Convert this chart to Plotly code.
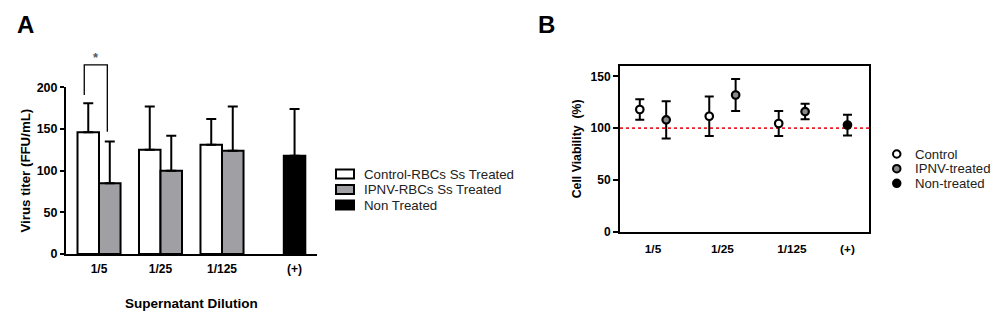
import plotly.graph_objects as go

# ---------------- data ----------------
dilutions = ["1/5", "1/25", "1/125"]
pos_label = "(+)"

titer_names = ["Control-RBCs Ss Treated", "IPNV-RBCs Ss Treated", "Non Treated"]
titer_control = [146, 125, 131]
titer_control_err = [35, 52, 31]
titer_ipnv = [85, 100, 124]
titer_ipnv_err = [50, 42, 53]
titer_non = [118]
titer_non_err = [56]

via_names = ["Control", "IPNV-treated", "Non-treated"]
via_control = [118, 111.5, 104.5]
via_control_err = [10, 19, 12]
via_ipnv = [108, 132, 116]
via_ipnv_err = [18, 15.5, 7.5]
via_non = [103]
via_non_err = [10]

# ---------------- layout helpers ----------------
W, H = 1000, 328
FONT = "Arial, Liberation Sans, sans-serif"
GRAY = "#a0a0a4"
MGRAY = "#8a8a8a"
CLEAR = "rgba(0,0,0,0)"


def px(xp):
    return xp / W


def py(yp):
    return 1 - yp / H


# panel A geometry
posA = [0, 1, 2, 3.18]
bw = 0.35
domA_x = [px(66), px(316.7)]
domA_y = [py(254), py(87.3)]
# panel B geometry
posB = [0, 1, 2, 2.8]
offB = 0.19
domB_x = [px(620), px(869)]
domB_y = [py(231.7), py(66)]

fig = go.Figure()

# ---- panel A bars ----
fig.add_trace(go.Bar(
    x=[p - bw / 2 for p in posA[:3]], y=titer_control, width=bw, name=titer_names[0],
    marker=dict(color="white", line=dict(color="black", width=2)),
    error_y=dict(type="data", array=titer_control_err, arrayminus=[0] * 3, symmetric=False,
                 color="black", thickness=2, width=5),
    xaxis="x", yaxis="y", showlegend=False))
fig.add_trace(go.Bar(
    x=[p + bw / 2 for p in posA[:3]], y=titer_ipnv, width=bw, name=titer_names[1],
    marker=dict(color=GRAY, line=dict(color="black", width=2)),
    error_y=dict(type="data", array=titer_ipnv_err, arrayminus=[0] * 3, symmetric=False,
                 color="black", thickness=2, width=5),
    xaxis="x", yaxis="y", showlegend=False))
fig.add_trace(go.Bar(
    x=[posA[3]], y=titer_non, width=bw, name=titer_names[2],
    marker=dict(color="black", line=dict(color="black", width=2)),
    error_y=dict(type="data", array=titer_non_err, arrayminus=[0], symmetric=False,
                 color="black", thickness=2, width=5),
    xaxis="x", yaxis="y", showlegend=False))

# ---- panel B points ----
def pt_trace(xs, ys, errs, fill, name):
    return go.Scatter(
        x=xs, y=ys, mode="markers", name=name,
        marker=dict(size=7.5, color=fill, line=dict(color="black", width=2.2)),
        error_y=dict(type="data", array=errs, color="black", thickness=2, width=4.5),
        xaxis="x2", yaxis="y2", showlegend=False, cliponaxis=False)

fig.add_trace(pt_trace([p - offB for p in posB[:3]], via_control, via_control_err, "white", via_names[0]))
fig.add_trace(pt_trace([p + offB for p in posB[:3]], via_ipnv, via_ipnv_err, MGRAY, via_names[1]))
fig.add_trace(pt_trace([posB[3]], via_non, via_non_err, "black", via_names[2]))


def bold(size):
    return dict(family=FONT, size=size, color="black", weight="bold")


fig.update_layout(
    width=W, height=H, margin=dict(l=0, r=0, t=0, b=0, pad=0, autoexpand=False),
    paper_bgcolor="white", plot_bgcolor="white",
    barmode="overlay", showlegend=False,
    font=dict(family=FONT, color="black"),
    xaxis=dict(domain=domA_x, range=[-0.537, 3.54], tickvals=posA, ticktext=dilutions + [pos_label],
               showline=True, linecolor="black", linewidth=2, ticks="outside", ticklen=3,
               tickcolor=CLEAR, showgrid=False, zeroline=False, tickfont=bold(12), anchor="y",
               automargin=False,
               title=dict(text="Supernatant Dilution", font=bold(13.5), standoff=23)),
    yaxis=dict(domain=domA_y, range=[0, 200], tickvals=[0, 50, 100, 150, 200],
               showline=True, linecolor="black", linewidth=2, ticks="outside", ticklen=4,
               tickwidth=2, tickcolor="black", showgrid=False, zeroline=False, tickfont=bold(12.5),
               anchor="x", automargin=False,
               title=dict(text="Virus titer (FFU/mL)", font=bold(13.3), standoff=3)),
    xaxis2=dict(domain=domB_x, range=[-0.475, 3.11], tickvals=posB, ticktext=dilutions + [pos_label],
                showline=True, mirror=True, linecolor="black", linewidth=2, ticks="outside", ticklen=5,
                tickcolor=CLEAR, showgrid=False, zeroline=False, tickfont=bold(11.8), anchor="y2",
                automargin=False),
    yaxis2=dict(domain=domB_y, range=[0, 160], tickvals=[0, 50, 100, 150],
                showline=True, mirror=True, linecolor="black", linewidth=2, ticks="outside", ticklen=5,
                tickwidth=2, tickcolor="black", showgrid=False, zeroline=False, tickfont=bold(12),
                anchor="x2", automargin=False,
                title=dict(text="Cell Viability  (%)", font=bold(12.3), standoff=6)),
)

# red dotted reference line at 100 %
fig.add_shape(type="line", xref="x2 domain", yref="y2", x0=0, x1=1, y0=100, y1=100,
              line=dict(color="#e8202a", width=1.6, dash="dot"), layer="below")


# significance bracket (panel A), y given in data units converted to paper
def ya_paper(v):
    return domA_y[0] + v / 200 * (domA_y[1] - domA_y[0])

br_left, br_right = posA[0] - 0.24, posA[0] + 0.135
br_top, br_lbot, br_rbot = 226.8, 190.8, 146.7
fig.add_shape(type="path", xref="x", yref="paper",
              path=(f"M {br_left} {ya_paper(br_lbot)} L {br_left} {ya_paper(br_top)} "
                    f"L {br_right} {ya_paper(br_top)} L {br_right} {ya_paper(br_rbot)}"),
              line=dict(color="black", width=1.3))
fig.add_annotation(x=(br_left + br_right) / 2, xref="x", y=py(58), yref="paper", text="*",
                   showarrow=False, xanchor="center", yanchor="middle",
                   font=dict(family=FONT, size=13, color="#555566", weight="bold"))

# panel letters
for letter, lx in (("A", 25.5), ("B", 546)):
    fig.add_annotation(x=px(lx), y=py(24.5), xref="paper", yref="paper", text=letter, showarrow=False,
                       xanchor="center", yanchor="middle", font=dict(family=FONT, size=24, weight="bold"))

# legend A (drawn manually for compact spacing)
legA_fill = ["white", GRAY, "black"]
legA_y = [174, 189.5, 205]
for name, fill, yy in zip(titer_names, legA_fill, legA_y):
    fig.add_shape(type="rect", xref="paper", yref="paper", x0=px(336), x1=px(354),
                  y0=py(yy - 4.5), y1=py(yy + 4.5), fillcolor=fill, line=dict(color="black", width=2))
    fig.add_annotation(x=px(362), y=py(yy), xref="paper", yref="paper", text=name, showarrow=False,
                       xanchor="left", yanchor="middle", font=dict(family=FONT, size=13.3, color="#222"))

# legend B
legB_fill = ["white", MGRAY, "black"]
legB_y = [154, 168.7, 183.3]
for name, fill, yy in zip(via_names, legB_fill, legB_y):
    fig.add_shape(type="circle", xref="paper", yref="paper", x0=px(893), x1=px(900.5),
                  y0=py(yy - 3.75), y1=py(yy + 3.75), fillcolor=fill, line=dict(color="black", width=2))
    fig.add_annotation(x=px(913), y=py(yy), xref="paper", yref="paper", text=name, showarrow=False,
                       xanchor="left", yanchor="middle", font=dict(family=FONT, size=13.2, color="#222"))

fig.write_html("out.html")
